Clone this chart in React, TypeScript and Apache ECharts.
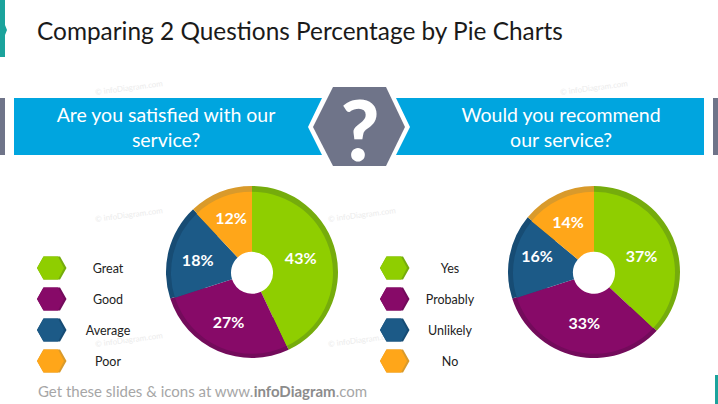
import React, { useEffect, useRef } from "react";
import * as echarts from "echarts";

const title = "Comparing 2 Questions Percentage by Pie Charts";
const questionLeft = "Are you satisfied with our\nservice?";
const questionRight = "Would you recommend\nour service?";
const categoriesLeft = ["Great", "Good", "Average", "Poor"];
const categoriesRight = ["Yes", "Probably", "Unlikely", "No"];
const valuesLeft = [43, 27, 18, 12];
const valuesRight = [37, 33, 16, 14];
const colors = ["#8fce00", "#870a68", "#1c5a87", "#ffa619"];
const rimColors = ["#75ac0c", "#730b5b", "#174c74", "#d99a2b"];
const FONT = "Lato";

const pie = (name: string, cats: string[], vals: number[], cx: number, nudge: number[][]) => {
  const rows = (palette: string[]) =>
    cats.map((c, i) => ({ name: c, value: vals[i], itemStyle: { color: palette[i] } }));
  return [
    {
      type: "pie", name: name + " rim", silent: true, startAngle: 90, clockwise: true,
      center: [cx, 272], radius: [50, 86], label: { show: false }, labelLine: { show: false },
      data: rows(rimColors), z: 2,
    },
    {
      type: "pie", name, silent: true, startAngle: 90, clockwise: true,
      center: [cx, 272.8], radius: [21, 81], labelLine: { show: false },
      label: {
        show: true, position: "inside", formatter: "{c}%", color: "#fff",
        fontFamily: FONT, fontWeight: "bold", fontSize: 16,
      },
      labelLayout: (p: any) => ({ dx: nudge[p.dataIndex][0], dy: nudge[p.dataIndex][1] }),
      data: rows(colors), z: 3,
    },
  ];
};

const hexLegend = (cats: string[], x0: number, textX: number) => {
  const rowY = [268, 299, 330, 361];
  const out: any[] = [];
  cats.forEach((c, i) => {
    const y = rowY[i];
    out.push({
      type: "polygon", z: 5,
      shape: { points: [[x0, y], [x0 + 6.5, y - 11.5], [x0 + 23, y - 11.5], [x0 + 29.5, y], [x0 + 23, y + 11.5], [x0 + 6.5, y + 11.5]] },
      style: { fill: rimColors[i] },
    });
    out.push({
      type: "polygon", z: 6,
      shape: { points: [[x0, y], [x0 + 6.5, y - 11.5], [x0 + 21, y - 11.5], [x0 + 27, y], [x0 + 21, y + 11.5], [x0 + 6.5, y + 11.5]] },
      style: { fill: colors[i] },
    });
    out.push({
      type: "text", z: 6, x: textX, y,
      style: { text: c, fill: "#222", font: `12.5px ${FONT}`, textAlign: "center", textVerticalAlign: "middle" },
    });
  });
  return out;
};

const watermarks = () => {
  const pts = [[95, 92], [560, 92], [95, 219], [328, 219], [560, 219], [95, 344], [328, 344], [560, 344]];
  return pts.map(([x, y]) => ({
    type: "text", z: 1, x, y, rotation: 0.13,
    style: { text: "© infoDiagram.com", fill: "#ececec", font: `8px ${FONT}`, textAlign: "left", textVerticalAlign: "middle" },
  }));
};

export default function App() {
  const ref = useRef<HTMLDivElement>(null);
  useEffect(() => {
    document.body.style.margin = "0";
    const chart = echarts.init(ref.current!, undefined, { renderer: "svg" });
    chart.setOption({
      animation: false,
      backgroundColor: "#fff",
      series: [
        ...pie("Satisfied", categoriesLeft, valuesLeft, 252, [[-4, -4], [-2, -1], [-2, 0], [-1, -5]]),
        ...pie("Recommend", categoriesRight, valuesRight, 594, [[-2, 4], [2, -3], [-4, -7], [-3, -2]]),
      ],
      graphic: [
        ...watermarks(),
        { type: "polygon", z: 2, shape: { points: [[0, 0], [5, 0], [5, 25], [7, 30], [5, 35], [5, 57], [0, 57]] }, style: { fill: "#1ba39c" } },
        { type: "rect", z: 2, shape: { x: 715, y: 375, width: 3, height: 29 }, style: { fill: "#1ba39c" } },
        { type: "rect", z: 2, shape: { x: 0, y: 98, width: 5, height: 57 }, style: { fill: "#6f7489" } },
        { type: "rect", z: 2, shape: { x: 713, y: 98, width: 5, height: 57 }, style: { fill: "#6f7489" } },
        { type: "polygon", z: 2, shape: { points: [[14, 98], [322, 98], [308, 127], [322, 155], [14, 155]] }, style: { fill: "#00a5df" } },
        { type: "polygon", z: 2, shape: { points: [[396, 98], [704, 98], [704, 155], [396, 155], [410, 127]] }, style: { fill: "#00a5df" } },
        { type: "polygon", z: 3, shape: { points: [[313, 127], [333, 87], [386, 87], [405, 127], [386, 166], [333, 166]] }, style: { fill: "#6f7489" } },
        { type: "text", z: 4, x: 360, y: 128, style: { text: "?", fill: "#fff", font: `900 84px ${FONT}`, textAlign: "center", textVerticalAlign: "middle" } },
        { type: "text", z: 4, x: 37, y: 30, style: { text: title, fill: "#1a1a1a", font: `24.4px ${FONT}`, textAlign: "left", textVerticalAlign: "middle" } },
        { type: "text", z: 4, x: 166, y: 126.5, style: { text: questionLeft, fill: "#fff", font: `19.5px ${FONT}`, lineHeight: 25, textAlign: "center", textVerticalAlign: "middle" } },
        { type: "text", z: 4, x: 561, y: 126.5, style: { text: questionRight, fill: "#fff", font: `19.5px ${FONT}`, lineHeight: 25, textAlign: "center", textVerticalAlign: "middle" } },
        ...hexLegend(categoriesLeft, 37, 108),
        ...hexLegend(categoriesRight, 380, 450),
        {
          type: "text", z: 4, x: 38, y: 391,
          style: {
            text: "{a|Get these slides & icons at www.}{b|infoDiagram}{a|.com}",
            textAlign: "left", textVerticalAlign: "middle",
            rich: {
              a: { fill: "#a6a6a6", font: `15px ${FONT}` },
              b: { fill: "#8c8c8c", font: `bold 15px ${FONT}` },
            },
          },
        },
      ],
    });
    return () => chart.dispose();
  }, []);
  return <div ref={ref} style={{ width: 718, height: 404 }} />;
}
